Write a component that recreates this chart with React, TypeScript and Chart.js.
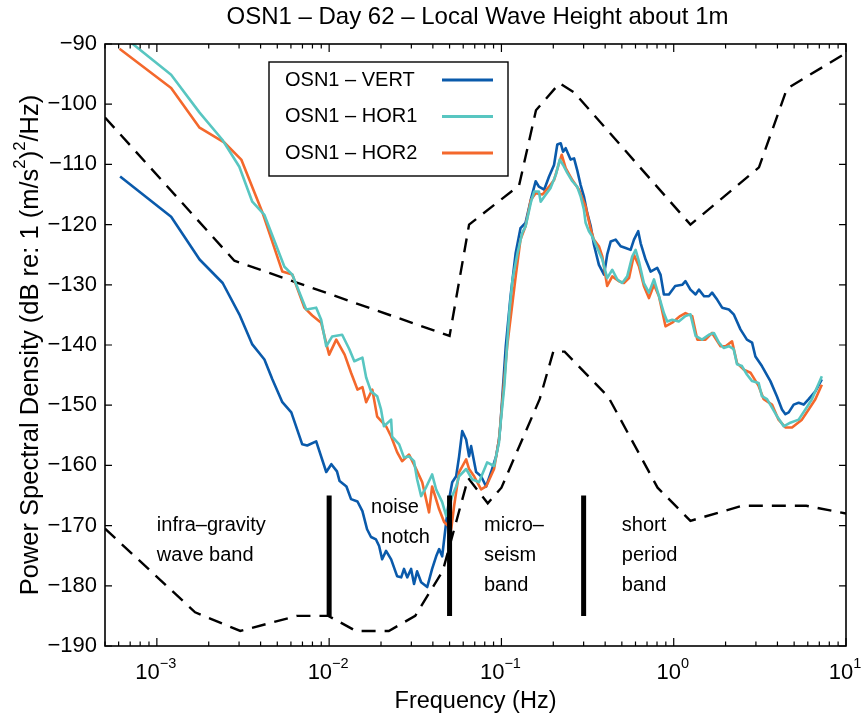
import React, { useEffect, useRef } from 'react';
import { Chart, registerables } from 'chart.js';

Chart.register(...registerables);

// ---------- text ----------
const TITLE = 'OSN1 – Day 62 – Local Wave Height about 1m';
const X_TITLE = 'Frequency (Hz)';
const Y_TITLE_PARTS = [
  { t: 'Power Spectral Density (dB re: 1 (m/s', sup: false },
  { t: '2', sup: true },
  { t: ')', sup: false },
  { t: '2', sup: true },
  { t: '/Hz)', sup: false },
];
const SERIES_NAMES = ['OSN1 – VERT', 'OSN1 – HOR1', 'OSN1 – HOR2'];

// ---------- axes ----------
const X_MIN = 5e-4;
const X_MAX = 10;
const Y_MIN = -190;
const Y_MAX = -90;
const Y_TICKS = [-190, -180, -170, -160, -150, -140, -130, -120, -110, -100, -90];
const X_TICK_EXPONENTS = [-3, -2, -1, 0, 1];
const X_MINOR_MULTIPLIERS = [2, 3, 4, 5, 6, 7, 8, 9];
const X_DECADES = [-4, -3, -2, -1, 0, 1];

// ---------- OSN1 VERT ----------
const VERT_FREQ = [
  6.12e-4, 1.21e-3, 1.77e-3, 2.41e-3, 3.01e-3, 3.58e-3, 4.21e-3, 4.68e-3, 5.35e-3, 6.03e-3,
  6.98e-3, 7.46e-3, 8.41e-3, 9.62e-3, 1.03e-2, 1.11e-2, 1.15e-2, 1.26e-2, 1.34e-2, 1.46e-2,
  1.56e-2, 1.66e-2, 1.75e-2, 1.87e-2, 1.95e-2, 2.03e-2, 2.14e-2, 2.29e-2, 2.48e-2, 2.62e-2,
  2.72e-2, 2.84e-2, 2.99e-2, 3.11e-2, 3.24e-2, 3.42e-2, 3.71e-2, 3.96e-2, 4.18e-2, 4.35e-2,
  4.53e-2, 4.78e-2, 4.97e-2, 5.18e-2, 5.46e-2, 5.68e-2, 5.92e-2, 6.24e-2, 6.49e-2, 6.67e-2,
  7.13e-2, 7.62e-2, 8.15e-2, 8.71e-2, 9.31e-2, 9.68e-2, 9.85e-2, 0.106, 0.113, 0.121,
  0.129, 0.138, 0.148, 0.158, 0.165, 0.177, 0.189, 0.202, 0.211, 0.221,
  0.228, 0.236, 0.252, 0.264, 0.275, 0.288, 0.301, 0.315, 0.330, 0.344,
  0.368, 0.394, 0.411, 0.431, 0.460, 0.492, 0.526, 0.562, 0.588, 0.622,
  0.643, 0.687, 0.734, 0.802, 0.838, 0.877, 0.938, 1.02, 1.12, 1.17,
  1.25, 1.34, 1.40, 1.50, 1.60, 1.67, 1.79, 1.91, 2.09, 2.23,
  2.44, 2.66, 2.85, 2.98, 3.25, 3.64, 3.97, 4.25, 4.45, 4.65,
  4.97, 5.31, 5.68, 6.07, 6.64, 7.24,
];
const VERT_DB = [
  -112.0, -118.7, -125.8, -129.7, -134.9, -139.9, -142.4, -145.7, -149.5, -151.2,
  -156.5, -156.7, -156.0, -161.1, -159.8, -161.0, -162.6, -163.5, -165.6, -166.0,
  -167.6, -170.6, -171.9, -172.3, -173.4, -175.6, -174.2, -175.6, -178.4, -178.6,
  -177.2, -178.6, -177.2, -179.7, -177.6, -179.4, -180.2, -177.2, -175.1, -173.9,
  -175.1, -169.4, -165.6, -162.8, -161.8, -158.5, -154.3, -155.7, -158.5, -156.8,
  -161.1, -161.8, -163.5, -161.1, -158.5, -155.7, -153.5, -140.2, -131.9, -124.7,
  -120.6, -119.7, -115.9, -112.8, -113.7, -114.2, -112.0, -110.1, -106.7, -106.5,
  -107.9, -107.3, -109.2, -109.0, -110.9, -113.4, -115.3, -118.1, -120.3, -123.3,
  -126.7, -128.3, -125.0, -122.8, -122.5, -123.6, -123.9, -124.2, -122.5, -121.1,
  -123.1, -125.8, -127.8, -127.2, -128.3, -131.6, -131.6, -130.2, -130.0, -129.4,
  -130.8, -131.6, -130.8, -131.9, -131.9, -131.3, -132.5, -133.8, -134.1, -134.9,
  -137.4, -139.1, -139.6, -141.9, -143.5, -146.0, -148.5, -150.7, -151.5, -151.2,
  -149.9, -149.6, -149.9, -149.0, -147.7, -145.7,
];

// ---------- OSN1 HOR1 ----------
const HOR1_FREQ = [
  6.1e-4, 7.25e-4, 1.21e-3, 1.77e-3, 2.40e-3, 3.01e-3, 3.58e-3, 4.21e-3, 5.50e-3, 6.11e-3,
  7.36e-3, 8.41e-3, 8.99e-3, 9.62e-3, 1.04e-2, 1.19e-2, 1.31e-2, 1.40e-2, 1.56e-2, 1.64e-2,
  1.75e-2, 1.90e-2, 2.00e-2, 2.08e-2, 2.29e-2, 2.32e-2, 2.55e-2, 2.72e-2, 2.91e-2, 3.11e-2,
  3.24e-2, 3.42e-2, 3.66e-2, 3.96e-2, 4.18e-2, 4.53e-2, 4.78e-2, 4.97e-2, 5.18e-2, 5.46e-2,
  5.68e-2, 6.24e-2, 6.76e-2, 7.41e-2, 8.26e-2, 9.06e-2, 9.68e-2, 9.85e-2, 0.104, 0.111,
  0.116, 0.124, 0.132, 0.138, 0.148, 0.155, 0.165, 0.169, 0.181, 0.193,
  0.207, 0.218, 0.228, 0.241, 0.258, 0.275, 0.288, 0.301, 0.308, 0.322,
  0.337, 0.360, 0.385, 0.411, 0.440, 0.470, 0.502, 0.537, 0.574, 0.601,
  0.628, 0.671, 0.718, 0.768, 0.821, 0.877, 0.917, 0.980, 1.07, 1.17,
  1.25, 1.34, 1.46, 1.60, 1.71, 1.83, 1.95, 2.09, 2.23, 2.33,
  2.49, 2.66, 2.85, 3.11, 3.25, 3.48, 3.72, 3.97, 4.35, 4.75,
  5.31, 5.81, 6.34, 7.24,
];
const HOR1_DB = [
  -88.3, -90.0, -95.1, -101.4, -105.9, -110.4, -116.2, -118.4, -127.0, -128.3,
  -134.1, -133.8, -135.8, -140.2, -138.6, -138.3, -140.7, -142.7, -142.1, -145.4,
  -147.7, -148.5, -150.7, -153.5, -152.4, -155.2, -156.5, -158.7, -158.5, -159.3,
  -162.3, -165.1, -163.6, -161.5, -164.0, -166.1, -168.4, -166.8, -165.1, -163.5,
  -161.8, -160.6, -162.3, -162.8, -159.5, -160.1, -156.2, -153.5, -146.8, -134.7,
  -129.1, -124.7, -121.4, -120.3, -116.4, -114.5, -114.5, -116.2, -115.0, -113.9,
  -111.7, -109.2, -110.1, -111.4, -112.8, -113.7, -115.3, -117.5, -119.7, -121.1,
  -122.0, -123.9, -125.8, -128.9, -127.5, -129.1, -129.7, -128.6, -125.3, -124.2,
  -126.1, -129.7, -131.3, -129.1, -131.9, -134.7, -136.1, -135.8, -136.1, -135.2,
  -134.9, -138.5, -139.1, -138.3, -138.0, -139.6, -140.5, -140.2, -140.7, -143.2,
  -143.5, -144.9, -146.0, -146.3, -148.5, -149.0, -150.4, -151.8, -153.5, -152.9,
  -152.4, -150.7, -149.0, -145.2,
];

// ---------- OSN1 HOR2 ----------
const HOR2_FREQ = [
  6.07e-4, 1.21e-3, 1.77e-3, 2.47e-3, 3.09e-3, 4.09e-3, 5.35e-3, 6.11e-3, 7.18e-3, 7.98e-3,
  8.99e-3, 9.75e-3, 1.00e-2, 1.10e-2, 1.23e-2, 1.34e-2, 1.46e-2, 1.56e-2, 1.64e-2, 1.78e-2,
  1.90e-2, 2.14e-2, 2.29e-2, 2.48e-2, 2.65e-2, 2.91e-2, 3.20e-2, 3.47e-2, 3.80e-2, 3.96e-2,
  4.35e-2, 4.65e-2, 5.11e-2, 5.31e-2, 5.68e-2, 6.24e-2, 6.49e-2, 6.94e-2, 7.62e-2, 8.15e-2,
  9.06e-2, 9.68e-2, 0.108, 0.121, 0.129, 0.138, 0.148, 0.158, 0.173, 0.189,
  0.202, 0.216, 0.224, 0.236, 0.258, 0.282, 0.308, 0.330, 0.344, 0.368,
  0.385, 0.411, 0.440, 0.481, 0.514, 0.550, 0.588, 0.628, 0.671, 0.718,
  0.768, 0.821, 0.896, 0.980, 1.09, 1.17, 1.28, 1.37, 1.53, 1.67,
  1.87, 2.00, 2.18, 2.33, 2.55, 2.79, 3.11, 3.33, 3.72, 4.06,
  4.45, 4.86, 5.55, 6.07, 6.64, 7.24,
];
const HOR2_DB = [
  -90.8, -97.3, -103.9, -106.4, -109.2, -117.9, -127.8, -128.3, -133.8, -135.1,
  -136.3, -140.4, -141.6, -139.1, -141.6, -144.6, -147.4, -147.0, -149.5, -147.4,
  -151.9, -153.5, -155.2, -157.8, -159.3, -158.2, -160.6, -162.8, -167.8, -163.5,
  -167.3, -169.4, -170.6, -166.8, -161.1, -159.0, -160.6, -161.8, -164.0, -163.5,
  -160.6, -155.7, -140.2, -128.6, -122.5, -120.3, -115.9, -114.8, -115.0, -113.7,
  -112.6, -109.8, -108.4, -110.6, -112.6, -114.2, -117.0, -120.8, -122.5, -123.6,
  -125.3, -130.2, -128.6, -129.4, -129.7, -128.9, -125.0, -126.9, -130.2, -132.2,
  -130.0, -131.9, -136.9, -136.3, -135.2, -134.7, -135.2, -139.1, -139.1, -138.0,
  -140.2, -140.2, -139.4, -143.0, -144.1, -144.6, -146.8, -149.0, -149.9, -152.4,
  -153.7, -153.7, -152.4, -150.7, -149.0, -146.6,
];

// ---------- high / low noise models (dashed) ----------
const HIGH_MODEL_FREQ = [5e-4, 2.818e-3, 0.05, 0.0649, 0.1266, 0.1587, 0.2174, 0.2632, 1.25, 3.125, 4.545, 10];
const HIGH_MODEL_DB = [-102.2, -126.0, -138.5, -120.0, -113.5, -101.0, -96.5, -98.0, -120.0, -110.5, -97.4, -91.5];
const LOW_MODEL_FREQ = [
  5e-4, 1.667e-3, 3.05e-3, 6.49e-3, 9.9e-3, 0.01429, 0.0222, 0.0316, 0.0457, 0.0641,
  0.0833, 0.1, 0.1667, 0.2, 0.2326, 0.4167, 0.806, 1.25, 2.5, 5.88, 10,
];
const LOW_MODEL_DB = [
  -170.5, -184.4, -187.5, -185.0, -185.0, -187.5, -187.5, -185.0, -177.5, -162.1,
  -166.3, -163.7, -149.0, -141.1, -141.1, -148.6, -163.7, -169.2, -166.7, -166.7, -168.0,
];

// ---------- band boundaries and labels ----------
const BAND_EDGES = [0.01, 0.05, 0.3];
const BAND_MARK_TOP = -165;
const BAND_MARK_BOTTOM = -185;
const BAND_TEXTS = ['infra–gravity', 'wave band', 'noise', 'notch', 'micro–', 'seism', 'band', 'short', 'period', 'band'];
const BAND_TEXT_FREQ = [1e-3, 1e-3, 0.0175, 0.02, 0.0792, 0.0792, 0.0792, 0.5, 0.5, 0.5];
const BAND_TEXT_DB = [-170, -175, -167, -172, -170, -175, -180, -170, -175, -180];

// ---------- styles ----------
const BLUE = '#0a5aab';
const TEAL = '#58c6c1';
const ORANGE = '#f4682c';
const FONT_FAMILY = '"Liberation Sans", Arial, Helvetica, sans-serif';
const font = (px: number) => `${px}px ${FONT_FAMILY}`;

const pts = (xs: number[], ys: number[]) => xs.map((x, i) => ({ x, y: ys[i] }));

type Seg = { t: string; sup: boolean };

function richWidth(ctx: CanvasRenderingContext2D, segs: Seg[], size: number) {
  let w = 0;
  for (const s of segs) {
    ctx.font = font(s.sup ? size * 0.66 : size);
    w += ctx.measureText(s.t).width;
  }
  return w;
}

function drawRich(ctx: CanvasRenderingContext2D, segs: Seg[], x: number, y: number, size: number) {
  let cx = x;
  for (const s of segs) {
    ctx.font = font(s.sup ? size * 0.66 : size);
    ctx.fillText(s.t, cx, s.sup ? y - size * 0.4 : y);
    cx += ctx.measureText(s.t).width;
  }
}

const overlayPlugin = {
  id: 'psdOverlay',
  afterDatasetsDraw(chart: any) {
    const ctx: CanvasRenderingContext2D = chart.ctx;
    const xs = chart.scales.x;
    const ys = chart.scales.y;
    const { left, right, top, bottom } = chart.chartArea;
    ctx.save();

    // band texts
    ctx.fillStyle = '#000';
    ctx.textBaseline = 'middle';
    ctx.textAlign = 'left';
    ctx.font = font(20);
    BAND_TEXTS.forEach((t, i) => {
      ctx.fillText(t, xs.getPixelForValue(BAND_TEXT_FREQ[i]), ys.getPixelForValue(BAND_TEXT_DB[i]));
    });

    // frame
    ctx.strokeStyle = '#000';
    ctx.lineWidth = 1.6;
    ctx.strokeRect(left, top, right - left, bottom - top);

    // x ticks (inward, top and bottom)
    ctx.lineWidth = 1.2;
    ctx.beginPath();
    for (const e of X_DECADES) {
      for (const m of [1, ...X_MINOR_MULTIPLIERS]) {
        const v = m * Math.pow(10, e);
        if (v < X_MIN * 0.999 || v > X_MAX * 1.001) continue;
        const px = xs.getPixelForValue(v);
        const len = m === 1 ? 8 : 4.5;
        ctx.moveTo(px, bottom);
        ctx.lineTo(px, bottom - len);
        ctx.moveTo(px, top);
        ctx.lineTo(px, top + len);
      }
    }
    // y ticks (inward, left and right)
    for (const v of Y_TICKS) {
      const py = ys.getPixelForValue(v);
      ctx.moveTo(left, py);
      ctx.lineTo(left + 7, py);
      ctx.moveTo(right, py);
      ctx.lineTo(right - 7, py);
    }
    ctx.stroke();

    // y tick labels
    ctx.textAlign = 'right';
    ctx.textBaseline = 'middle';
    ctx.font = font(22);
    for (const v of Y_TICKS) {
      const label = v < 0 ? '\u2212' + Math.abs(v) : String(v);
      ctx.fillText(label, left - 8, ys.getPixelForValue(v));
    }

    // x tick labels (10 with superscript exponent)
    ctx.textAlign = 'left';
    for (const e of X_TICK_EXPONENTS) {
      const segs: Seg[] = [
        { t: '10', sup: false },
        { t: e < 0 ? '\u2212' + Math.abs(e) : String(e), sup: true },
      ];
      const w = richWidth(ctx, segs, 22);
      const px = xs.getPixelForValue(Math.pow(10, e));
      drawRich(ctx, segs, px - w / 2 - 1, bottom + 27, 22);
    }

    // axis titles
    ctx.font = font(23.5);
    ctx.textAlign = 'center';
    ctx.fillText(X_TITLE, (left + right) / 2, bottom + 56);

    ctx.save();
    ctx.translate(31, (top + bottom) / 2);
    ctx.rotate(-Math.PI / 2);
    ctx.textAlign = 'left';
    const yw = richWidth(ctx, Y_TITLE_PARTS, 25.5);
    drawRich(ctx, Y_TITLE_PARTS, -yw / 2, 0, 25.5);
    ctx.restore();

    // title
    ctx.font = font(24);
    ctx.textAlign = 'center';
    ctx.fillText(TITLE, (left + right) / 2 + 2, 17);

    // legend
    const lx = 269, ly = 62, lw = 239, lh = 114;
    ctx.fillStyle = '#fff';
    ctx.fillRect(lx, ly, lw, lh);
    ctx.strokeStyle = '#000';
    ctx.lineWidth = 1.4;
    ctx.strokeRect(lx, ly, lw, lh);
    const colors = [BLUE, TEAL, ORANGE];
    ctx.font = font(20);
    ctx.textAlign = 'left';
    SERIES_NAMES.forEach((name, i) => {
      const cy = ly + 18 + i * 36.5;
      ctx.fillStyle = '#000';
      ctx.fillText(name, lx + 16, cy);
      ctx.strokeStyle = colors[i];
      ctx.lineWidth = 2.8;
      ctx.beginPath();
      ctx.moveTo(lx + 173, cy);
      ctx.lineTo(lx + 224, cy);
      ctx.stroke();
    });

    ctx.restore();
  },
};

export default function App() {
  const canvasRef = useRef<HTMLCanvasElement | null>(null);

  useEffect(() => {
    document.body.style.margin = '0';
    const canvas = canvasRef.current;
    if (!canvas) return;

    const lineBase = { showLine: true, pointRadius: 0, pointHoverRadius: 0, tension: 0, clip: 0, fill: false };

    const bandDatasets = BAND_EDGES.map((f) => ({
      ...lineBase,
      label: 'band edge',
      data: [
        { x: f, y: BAND_MARK_TOP },
        { x: f, y: BAND_MARK_BOTTOM },
      ],
      borderColor: '#000',
      borderWidth: 5,
      borderCapStyle: 'butt',
      order: 0,
    }));

    const chart = new Chart(canvas, {
      type: 'scatter',
      data: {
        datasets: [
          ...bandDatasets,
          {
            ...lineBase,
            label: SERIES_NAMES[1],
            data: pts(HOR1_FREQ, HOR1_DB),
            borderColor: TEAL,
            borderWidth: 2.6,
            borderJoinStyle: 'round',
            order: 1,
          },
          {
            ...lineBase,
            label: SERIES_NAMES[2],
            data: pts(HOR2_FREQ, HOR2_DB),
            borderColor: ORANGE,
            borderWidth: 2.6,
            borderJoinStyle: 'round',
            order: 2,
          },
          {
            ...lineBase,
            label: SERIES_NAMES[0],
            data: pts(VERT_FREQ, VERT_DB),
            borderColor: BLUE,
            borderWidth: 2.6,
            borderJoinStyle: 'round',
            order: 3,
          },
          {
            ...lineBase,
            label: 'high noise model',
            data: pts(HIGH_MODEL_FREQ, HIGH_MODEL_DB),
            borderColor: '#000',
            borderWidth: 2.4,
            borderDash: [14, 9],
            order: 4,
          },
          {
            ...lineBase,
            label: 'low noise model',
            data: pts(LOW_MODEL_FREQ, LOW_MODEL_DB),
            borderColor: '#000',
            borderWidth: 2.4,
            borderDash: [14, 9],
            order: 5,
          },
        ] as any,
      },
      options: {
        responsive: false,
        animation: false,
        devicePixelRatio: 1,
        layout: { padding: { left: 105, right: 16, top: 44, bottom: 70 } },
        scales: {
          x: { type: 'logarithmic', min: X_MIN, max: X_MAX, display: false },
          y: { type: 'linear', min: Y_MIN, max: Y_MAX, display: false },
        },
        plugins: {
          legend: { display: false },
          tooltip: { enabled: false },
          title: { display: false },
        },
        events: [],
      } as any,
      plugins: [overlayPlugin as any],
    });

    return () => chart.destroy();
  }, []);

  return (
    <div style={{ position: 'fixed', left: 0, top: 0, width: 862, height: 716, background: '#fff' }}>
      <canvas ref={canvasRef} width={862} height={716} />
    </div>
  );
}
